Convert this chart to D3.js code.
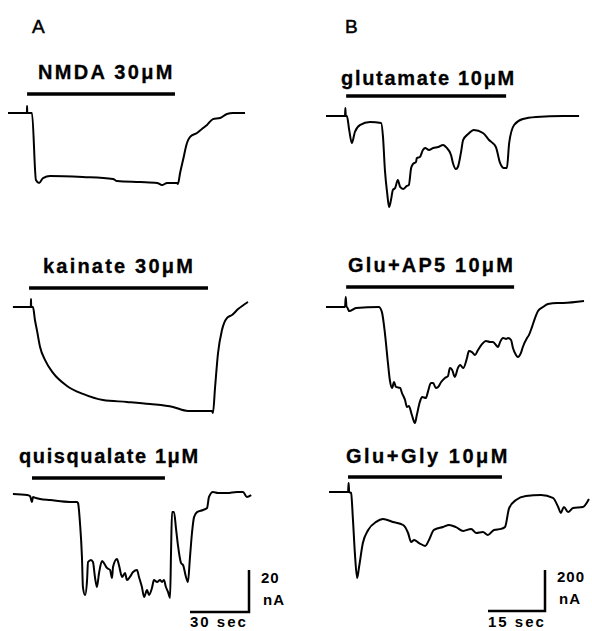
<!DOCTYPE html>
<html>
<head>
<meta charset="utf-8">
<script src="https://cdn.jsdelivr.net/npm/d3@7"></script>
<style>
	body { margin: 0; background: #fff; }
	svg { display: block; }
	text { font-family: "Liberation Sans", Arial, sans-serif; fill: #000; }
</style>
</head>
<body>
<svg id="chart" width="592" height="631"></svg>
<script>

// ---- data: [time (s), current (nA, relative to resting baseline)] ----

// panel A
var nmdaTrace = [[0,0],[9.6,0],[9.7,3.3],[9.8,0],[12.2,0],[14.2,-31.9],[15.8,-33.3],[17.8,-31],[21.4,-30],[38.1,-30.5],[53.4,-31.4],[55.4,-32.4],[67.1,-32.9],[75.8,-33.3],[78.3,-34.3],[80.9,-33.3],[85.9,-33.3],[86.4,-33.8],[87.5,-28.6],[89,-22.4],[91,-14.3],[92.6,-11.4],[96.1,-9.5],[98.6,-7.6],[101.2,-5.7],[104.2,-2.9],[107.8,-2.4],[111.3,-0.5],[114.4,0],[120.5,0]];

var kainateTrace = [[2.5,0],[11.6,0],[11.7,3.8],[11.8,0],[12.7,0],[13.7,-6.2],[14.7,-11],[16.3,-19],[18.8,-25.2],[22.9,-31.4],[30,-37.6],[38.1,-41.4],[48.3,-44.3],[60.5,-45.2],[72.2,-46.2],[83.9,-47.6],[91.5,-49.5],[103.7,-49.5],[104.2,-50.5],[105.3,-38.1],[106.8,-21.9],[108.8,-11],[111.4,-5.2],[113.9,-3.8],[117,-1],[122,2.4]];

var quisTrace = [[2.5,0],[9.7,-0.5],[11.2,-1],[12.2,-3.8],[12.7,-1.4],[14.2,-1.9],[16.3,-2.4],[21.4,-2.9],[31.5,-3.8],[35.1,-3.8],[35.6,-4.3],[36.6,-13.8],[37.6,-30],[38.1,-44.3],[39.2,-48.1],[40.2,-41],[40.7,-32.4],[42.2,-31.4],[43.2,-32.4],[44.2,-39.5],[45.2,-44.3],[46.3,-37.6],[47.8,-31.9],[48.8,-32.9],[50.3,-35.2],[51.9,-36.2],[52.9,-40],[53.4,-34.8],[55.4,-31],[56.4,-33.8],[58,-39.5],[59.5,-37.6],[60.5,-41],[62,-39.5],[63.6,-37.1],[65.6,-36.2],[66.6,-39.5],[68.1,-44.3],[69.2,-49],[70.7,-45.7],[71.7,-48.1],[73.2,-44.8],[74.2,-41],[75.8,-41.9],[77.3,-41],[78.3,-41.9],[79.3,-41],[80.3,-44.3],[81.4,-46.7],[82.4,-49.5],[82.9,-27.6],[83.4,-8.6],[84.4,-8.6],[85.4,-16.2],[86.4,-24.3],[88,-32.9],[89,-33.8],[90.5,-39.5],[91.5,-41.9],[92.5,-30.5],[93.6,-18.1],[94.6,-11],[96.1,-8.6],[99.2,-7.6],[101.2,-6.7],[102.2,-1.4],[104.2,1],[106.8,0.5],[111.4,0.5],[116.4,1],[119.5,1],[121.5,-1.4],[123.6,-0.5]];

// panel B
var gluTrace = [[0,0],[5,0],[5.1,39],[5.2,0],[5.5,0],[6.1,-68],[6.8,-132],[7.6,-78],[8.9,-44],[11.6,-29],[14.5,-34],[15,-102],[15.5,-263],[16.1,-376],[16.6,-444],[17.1,-410],[17.6,-361],[18.2,-351],[18.9,-312],[19.5,-346],[20.3,-356],[21.3,-341],[21.8,-337],[22.4,-254],[22.9,-234],[23.7,-224],[23.9,-205],[24.7,-200],[25.5,-166],[26.1,-156],[27.1,-166],[28.2,-156],[29.5,-151],[30.8,-141],[31.8,-156],[32.9,-190],[33.4,-229],[34.2,-259],[34.7,-249],[35.5,-180],[36.1,-117],[37.4,-88],[38.9,-68],[41.3,-83],[42.9,-117],[44.7,-151],[45.8,-229],[46.8,-254],[47.6,-254],[48.2,-132],[49.5,-44],[51.8,-15],[55.3,-5],[62.4,0],[66.6,0]];

var gluAp5Trace = [[0,0],[5,0],[5.2,49],[5.4,0],[5.5,0],[6.1,-20],[7.9,-5],[13.9,0],[14.7,-24],[15.5,-127],[16.3,-273],[16.8,-356],[17.4,-395],[17.9,-366],[18.4,-390],[19.5,-395],[20,-420],[20.8,-454],[21.3,-488],[21.8,-483],[22.6,-527],[23.4,-566],[23.9,-527],[24.7,-463],[25.3,-439],[26.3,-444],[26.8,-415],[27.6,-371],[28.2,-371],[28.9,-395],[29.5,-390],[30.3,-366],[31.3,-346],[32.1,-337],[32.6,-298],[33.2,-307],[33.9,-341],[34.7,-298],[35.3,-283],[36.1,-298],[37.1,-249],[37.6,-215],[38.4,-220],[39.2,-234],[40,-210],[41.1,-180],[42.1,-166],[43.2,-171],[43.9,-171],[44.7,-185],[45.3,-195],[45.8,-171],[46.6,-151],[47.4,-156],[47.9,-151],[48.7,-161],[49.2,-200],[50,-234],[50.5,-244],[51.3,-224],[51.8,-195],[52.9,-151],[53.4,-137],[54.2,-98],[55,-54],[55.8,-20],[57.1,0],[58.4,15],[60.8,20],[62.4,20],[67.9,29]];

var gluGlyTrace = [[0.8,0],[5.8,0],[5.95,44],[6.1,0],[6.6,-5],[7.1,-137],[7.6,-298],[8.2,-420],[8.7,-366],[9.7,-249],[11.1,-185],[13.2,-146],[15,-132],[17.6,-146],[20.3,-161],[21.6,-200],[22.4,-244],[23.2,-234],[24.5,-249],[26.1,-263],[27.1,-234],[28.4,-185],[30.8,-171],[32.4,-161],[34.2,-171],[36.1,-190],[38.2,-180],[39.5,-200],[41.3,-195],[42.6,-210],[44.2,-185],[46.1,-180],[47.1,-171],[48.2,-78],[50,-39],[52.6,-20],[56.6,-15],[59.7,-29],[61.1,-73],[61.8,-102],[62.6,-73],[63.7,-98],[65,-78],[67.6,-73],[69.2,-34]];

// drug labels and application periods [start s, end s]
var labelsA = ["NMDA 30μM", "kainate 30μM", "quisqualate 1μM"];
var labelsB = ["glutamate 10μM", "Glu+AP5 10μM", "Glu+Gly 10μM"];
var appA = [[9.7, 84.9], [10.7, 101.7], [12.2, 79.8]];
var appB = [[5.3, 47.4], [5.3, 49.5], [5.8, 46.3]];

// calibration bars
var calA = {sec: 30, nA: 20, secLabel: "30 sec", nALabel: ["20", "nA"]};
var calB = {sec: 15, nA: 200, secLabel: "15 sec", nALabel: ["200", "nA"]};

// ---- layout ----
var layoutA = {x0: 8, pxPerSec: 59 / 30, pxPerNA: 42 / 20, letter: "A", letterX: 32,
	bases: [113, 307, 494], barUp: [19, 19, 16], labelUp: [34, 34, 31], labelX: [38, 43, 19],
	labelSpacing: [2.3, 2.2, 1.6], calX: 249, calY: 612};
var layoutB = {x0: 326, pxPerSec: 57 / 15, pxPerNA: 41 / 200, letter: "B", letterX: 345,
	bases: [116, 307, 492], barUp: [20, 20, 15], labelUp: [31, 35, 29], labelX: [341, 348, 346],
	labelSpacing: [1.7, 2.2, 2.5], calX: 545, calY: 611};

var svg = d3.select("#chart");

function drawPanel(traces, labels, apps, cal, lay) {
	var x = d3.scaleLinear()
		.domain([0, 100])
		.range([lay.x0, lay.x0 + 100 * lay.pxPerSec]);

	var g = svg.append("g");

	g.append("text")
		.attr("x", lay.letterX)
		.attr("y", 33)
		.attr("font-size", 19)
		.attr("stroke", "#000")
		.attr("stroke-width", 0.5)
		.text(lay.letter);

	traces.forEach(function(trace, i) {
		var base = lay.bases[i];
		var y = d3.scaleLinear()
			.domain([0, -100])
			.range([base, base + 100 * lay.pxPerNA]);

		var line = d3.line()
			.x(function(d) { return x(d[0]); })
			.y(function(d) { return y(d[1]); })
			.curve(d3.curveMonotoneX);

		g.append("path")
			.datum(trace)
			.attr("d", line)
			.attr("fill", "none")
			.attr("stroke", "#000")
			.attr("stroke-width", 2)
			.attr("stroke-linejoin", "round");

		// application bar
		g.append("line")
			.attr("x1", x(apps[i][0]))
			.attr("x2", x(apps[i][1]))
			.attr("y1", base - lay.barUp[i])
			.attr("y2", base - lay.barUp[i])
			.attr("stroke", "#000")
			.attr("stroke-width", 3.5);

		g.append("text")
			.attr("x", lay.labelX[i])
			.attr("y", base - lay.labelUp[i])
			.attr("font-size", 20)
			.attr("font-weight", "bold")
			.attr("letter-spacing", lay.labelSpacing[i])
			.attr("stroke", "#000")
			.attr("stroke-width", 0.3)
			.text(labels[i]);
	});

	// calibration
	var secLen = x(cal.sec) - x(0);
	var naLen = cal.nA * lay.pxPerNA;
	g.append("path")
		.attr("d", "M" + (lay.calX - secLen) + "," + lay.calY + "H" + lay.calX + "V" + (lay.calY - naLen))
		.attr("fill", "none")
		.attr("stroke", "#000")
		.attr("stroke-width", 2.5);

	g.selectAll(".cal-na")
		.data(cal.nALabel)
		.enter()
		.append("text")
		.attr("x", function(d, i) { return lay.calX + (i == 0 ? 12 : 14); })
		.attr("y", function(d, i) { return lay.calY - 29 + i * 22; })
		.attr("font-size", 15)
		.attr("font-weight", "bold")
		.attr("letter-spacing", 1)
		.text(function(d) { return d; });

	g.append("text")
		.attr("x", lay.calX - secLen)
		.attr("y", 627)
		.attr("font-size", 15)
		.attr("font-weight", "bold")
		.attr("letter-spacing", 2)
		.text(cal.secLabel);
}

drawPanel([nmdaTrace, kainateTrace, quisTrace], labelsA, appA, calA, layoutA);
drawPanel([gluTrace, gluAp5Trace, gluGlyTrace], labelsB, appB, calB, layoutB);

</script>
</body>
</html>
